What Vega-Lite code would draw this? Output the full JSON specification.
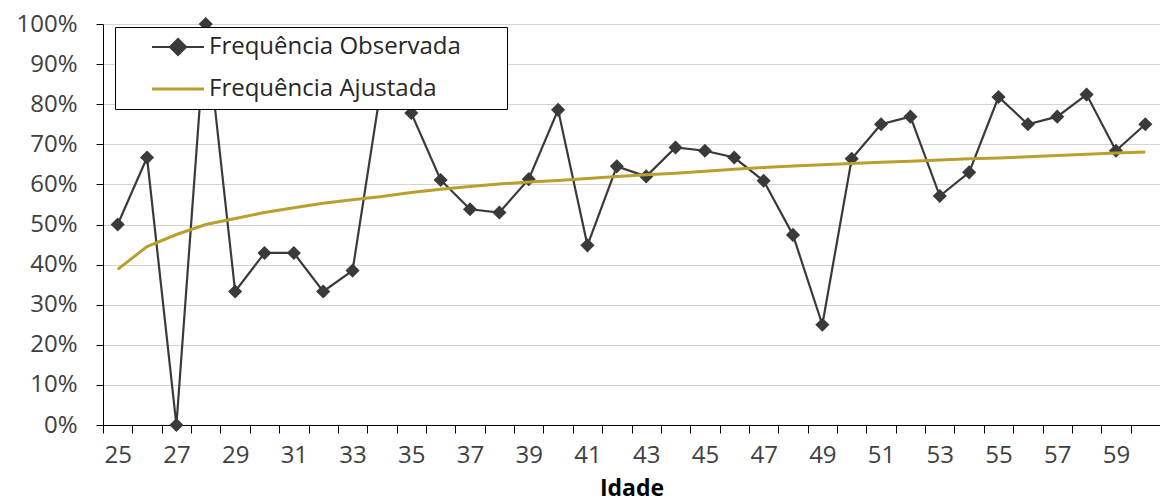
{
  "$schema": "https://vega.github.io/schema/vega-lite/v6.json",
  "width": 1057,
  "height": 401,
  "autosize": {"type": "none"},
  "padding": {"left": 103, "top": 24, "right": 0, "bottom": 77},
  "background": "white",
  "config": {
    "view": {"stroke": null},
    "font": "Open Sans",
    "axis": {"labelFont": "Open Sans", "titleFont": "Open Sans"},
    "legend": {"labelFont": "Open Sans"}
  },
  "data": {
    "values": [
      {"idade": 25, "obs": 0.5, "aj": 0.388},
      {"idade": 26, "obs": 0.667, "aj": 0.445},
      {"idade": 27, "obs": 0.0, "aj": 0.475},
      {"idade": 28, "obs": 1.0, "aj": 0.5},
      {"idade": 29, "obs": 0.333, "aj": 0.515},
      {"idade": 30, "obs": 0.429, "aj": 0.53},
      {"idade": 31, "obs": 0.429, "aj": 0.542},
      {"idade": 32, "obs": 0.333, "aj": 0.553},
      {"idade": 33, "obs": 0.385, "aj": 0.562},
      {"idade": 34, "obs": 0.857, "aj": 0.57},
      {"idade": 35, "obs": 0.778, "aj": 0.58},
      {"idade": 36, "obs": 0.611, "aj": 0.588},
      {"idade": 37, "obs": 0.538, "aj": 0.595},
      {"idade": 38, "obs": 0.53, "aj": 0.601},
      {"idade": 39, "obs": 0.613, "aj": 0.606},
      {"idade": 40, "obs": 0.786, "aj": 0.61},
      {"idade": 41, "obs": 0.448, "aj": 0.615},
      {"idade": 42, "obs": 0.645, "aj": 0.62},
      {"idade": 43, "obs": 0.62, "aj": 0.624},
      {"idade": 44, "obs": 0.692, "aj": 0.628},
      {"idade": 45, "obs": 0.684, "aj": 0.633},
      {"idade": 46, "obs": 0.667, "aj": 0.638},
      {"idade": 47, "obs": 0.609, "aj": 0.642},
      {"idade": 48, "obs": 0.474, "aj": 0.646},
      {"idade": 49, "obs": 0.25, "aj": 0.649},
      {"idade": 50, "obs": 0.664, "aj": 0.652},
      {"idade": 51, "obs": 0.75, "aj": 0.655},
      {"idade": 52, "obs": 0.769, "aj": 0.658},
      {"idade": 53, "obs": 0.571, "aj": 0.661},
      {"idade": 54, "obs": 0.63, "aj": 0.664},
      {"idade": 55, "obs": 0.818, "aj": 0.666},
      {"idade": 56, "obs": 0.75, "aj": 0.669},
      {"idade": 57, "obs": 0.769, "aj": 0.672},
      {"idade": 58, "obs": 0.824, "aj": 0.675},
      {"idade": 59, "obs": 0.684, "aj": 0.678},
      {"idade": 60, "obs": 0.75, "aj": 0.681}
    ]
  },
  "encoding": {
    "x": {
      "field": "idade",
      "type": "ordinal",
      "sort": "ascending",
      "scale": {"type": "band", "paddingInner": 0, "paddingOuter": 0},
      "axis": {
        "title": "Idade",
        "titleFontWeight": "bold",
        "titleFontSize": 23,
        "titleColor": "#000000",
        "titleY": 70,
        "titleBaseline": "alphabetic",
        "labelAngle": 0,
        "labelOverlap": false,
        "labelExpr": "datum.value % 2 == 1 ? datum.label : ''",
        "labelFontSize": 24,
        "labelColor": "#404040",
        "labelPadding": 10,
        "tickBand": "extent",
        "tickSize": 8,
        "tickColor": "#000000",
        "domainColor": "#000000",
        "grid": false
      }
    }
  },
  "layer": [
    {
      "mark": {"type": "line", "strokeWidth": 2.2},
      "encoding": {
        "y": {
          "field": "obs",
          "type": "quantitative",
          "scale": {"domain": [0, 1], "nice": false},
          "axis": {
            "title": null,
            "values": [0, 0.1, 0.2, 0.3, 0.4, 0.5, 0.6, 0.7, 0.8, 0.9, 1],
            "format": ".0%",
            "labelFontSize": 24,
            "labelColor": "#404040",
            "labelPadding": 19,
            "tickSize": 7,
            "tickColor": "#000000",
            "domainColor": "#000000",
            "gridColor": "#d4d4d4",
            "gridWidth": 1.2
          }
        },
        "color": {
          "datum": "Frequência Observada",
          "scale": {
            "domain": ["Frequência Observada", "Frequência Ajustada"],
            "range": ["#3a3a3a", "#B9A02E"]
          },
          "legend": {
            "orient": "none",
            "legendX": 12,
            "legendY": 3,
            "title": null,
            "strokeColor": "#000000",
            "fillColor": "white",
            "padding": 8,
            "labelFontSize": 24,
            "labelColor": "#262626",
            "labelLimit": 600,
            "symbolSize": 400,
            "symbolOffset": 43,
            "labelOffset": 19,
            "rowPadding": 17,
            "labelExpr": "datum.label + '\u00a0\u00a0\u00a0\u00a0\u00a0\u00a0\u200b'",
            "encode": {
              "symbols": {
                "update": {
                  "shape": {"signal": "datum.value === 'Frequência Observada' ? 'M-2.6,0H2.6M0,-0.8L0.8,0L0,0.8L-0.8,0Z' : 'M-2.6,0H2.6'"},
                  "fill": {"signal": "datum.value === 'Frequência Observada' ? '#3a3a3a' : 'transparent'"},
                  "stroke": {"signal": "datum.value === 'Frequência Observada' ? '#3a3a3a' : '#B9A02E'"},
                  "strokeWidth": {"signal": "datum.value === 'Frequência Observada' ? 2.2 : 3"},
                  "size": {"value": 400},
                  "opacity": {"value": 1}
                }
              }
            }
          }
        }
      }
    },
    {
      "mark": {"type": "point", "shape": "diamond", "filled": true, "size": 200, "color": "#3a3a3a", "opacity": 1},
      "encoding": {
        "y": {"field": "obs", "type": "quantitative"}
      }
    },
    {
      "mark": {"type": "line", "strokeWidth": 3},
      "encoding": {
        "y": {"field": "aj", "type": "quantitative"},
        "color": {"datum": "Frequência Ajustada"}
      }
    }
  ]
}
